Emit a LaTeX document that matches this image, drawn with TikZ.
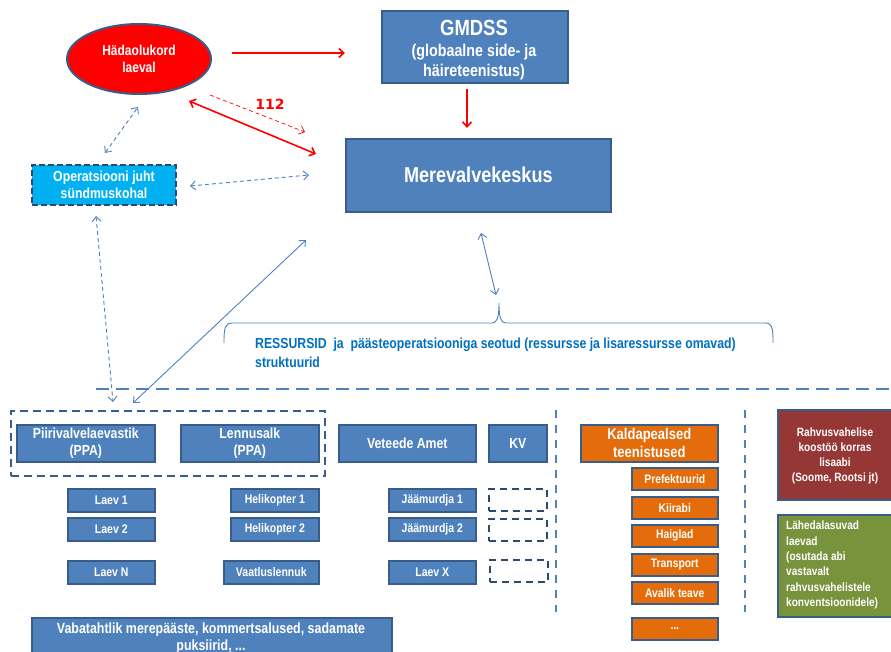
\documentclass[tikz,border=0pt]{standalone}
\usepackage{fontspec}
\setmainfont{Liberation Sans}[FakeStretch=0.84]
\newfontfamily\numfont{DejaVu Sans}
\usetikzlibrary{arrows.meta,shapes.geometric}
\definecolor{boxblue}{HTML}{4F81BD}
\definecolor{edgeblue}{HTML}{385D8A}
\definecolor{dashdark}{HTML}{2C4A70}
\definecolor{cyanbox}{HTML}{00B0F0}
\definecolor{orangebox}{HTML}{E46C0A}
\definecolor{redbox}{HTML}{953735}
\definecolor{greenbox}{HTML}{77933C}
\definecolor{txtblue}{HTML}{0070C0}
\tikzset{
  bx/.style={draw=edgeblue, line width=1.6pt, fill=boxblue, text=white, font=\bfseries,
    align=center, inner sep=0pt, anchor=north west},
  obx/.style={bx, fill=orangebox},
  emptybox/.style={draw=dashdark, line width=1.6pt, dash pattern=on 7pt off 5pt, anchor=north west, inner sep=0pt},
  redarr/.style={draw=red, line width=1.6pt, -{Straight Barb[length=5pt,width=9pt]}},
  reddbl/.style={draw=red, line width=1.6pt, {Straight Barb[length=5pt,width=9pt]}-{Straight Barb[length=5pt,width=9pt]}},
  reddash/.style={draw=red, line width=0.7pt, dash pattern=on 4pt off 3pt, -{Straight Barb[length=5pt,width=9pt]}},
  bluedash/.style={draw=boxblue, line width=0.9pt, dash pattern=on 4pt off 3pt, {Straight Barb[length=5pt,width=9pt]}-{Straight Barb[length=5pt,width=9pt]}},
  bluesolid/.style={draw=boxblue, line width=0.9pt, {Straight Barb[length=5pt,width=9pt]}-{Straight Barb[length=5pt,width=9pt]}},
  sepline/.style={draw=boxblue, line width=2.4pt, dash pattern=on 8pt off 7pt},
}
\begin{document}
\begin{tikzpicture}[x=1pt,y=-1pt]
\useasboundingbox (0,0) rectangle (891,652);
% top
\node[ellipse, draw=edgeblue, line width=2pt, fill=red, text=white, font=\bfseries\fontsize{14.3}{17}\selectfont,
  align=center, minimum width=144pt, minimum height=70pt, inner sep=0pt] (ell) at (139,59) {Hädaolukord\\laeval};
\node[bx, minimum width=186pt, minimum height=72pt] (gmdss) at (381,10) {};
\node[text=white, font=\bfseries\fontsize{22}{23}\selectfont] (gmdsst) at (474,28) {GMDSS};
\node[text=white, font=\bfseries\fontsize{17}{20}\selectfont, align=center] (gmdsss) at (474,62) {(globaalne side- ja\\häireteenistus)};
\node[bx, minimum width=265pt, minimum height=73pt, font=\bfseries\fontsize{21.5}{24}\selectfont] (mvk) at (345,138) {Merevalvekeskus};
\node[bx, fill=cyanbox, draw=dashdark, dash pattern=on 6pt off 3pt, line width=2pt, minimum width=144pt, minimum height=40pt,
  font=\bfseries\fontsize{14.6}{16.5}\selectfont] (opj) at (31,164) {Operatsiooni juht\\sündmuskohal};
\node[text=red, font=\numfont\bfseries\fontsize{14}{16}\selectfont] (n112) at (270,104) {112};
% connectors top
\coordinate (a1) at (232,53); \coordinate (a2) at (345,53);
\draw[redarr] (a1) -- (a2);
\coordinate (b1) at (467,89); \coordinate (b2) at (467,128);
\draw[redarr] (b1) -- (b2);
\coordinate (c1) at (189,101); \coordinate (c2) at (316,154);
\draw[reddbl] (c1) -- (c2);
\coordinate (d1) at (210,95); \coordinate (d2) at (305,132);
\draw[reddash] (d1) -- (d2);
\coordinate (e1) at (105,153); \coordinate (e2) at (138,107);
\draw[bluedash] (e1) -- (e2);
\coordinate (f1) at (190,186); \coordinate (f2) at (309,175);
\draw[bluedash] (f1) -- (f2);
\coordinate (g1) at (96,216); \coordinate (g2) at (113,402);
\draw[bluedash] (g1) -- (g2);
\coordinate (h1) at (306,240); \coordinate (h2) at (133,403);
\draw[bluesolid] (h1) -- (h2);
\coordinate (i1) at (481,233); \coordinate (i2) at (496,295);
\draw[bluesolid] (i1) -- (i2);
% brace
\draw[boxblue, line width=0.9pt] (224,343) .. controls (224,327) and (225,323) .. (233,323) -- (492,323)
  .. controls (497,323) and (499,318) .. (499,303) .. controls (499,318) and (501,323) .. (506,323)
  -- (765,323) .. controls (772,323) and (773,327) .. (773,343);
\node[text=txtblue, font=\bfseries\fontsize{14.6}{19}\selectfont, align=left, anchor=north west, inner sep=0pt] (res) at (255,338)
  {RESSURSID\ \ ja\ \ päästeoperatsiooniga seotud (ressursse ja lisaressursse omavad)\\struktuurid};
% separators
\coordinate (s1) at (96,389); \coordinate (s2) at (891,389);
\draw[sepline, dash pattern=on 13pt off 7pt] (s1) -- (s2);
\coordinate (v1) at (556,410); \coordinate (v2) at (556,612);
\draw[sepline, line width=2pt] (v1) -- (v2);
\coordinate (w1) at (745,410); \coordinate (w2) at (745,612);
\draw[sepline, line width=2pt] (w1) -- (w2);
% group box
\node[emptybox, draw=edgeblue, line width=1.6pt, dash pattern=on 8pt off 5pt, minimum width=314pt, minimum height=65pt] (grp) at (10,410) {};
\tikzset{mid/.style={bx, minimum height=37pt, font=\bfseries\fontsize{14.6}{17}\selectfont}}
\node[mid, minimum width=138pt] (ppa) at (16,424) {Piirivalvelaevastik\\(PPA)};
\node[mid, minimum width=138pt] (lenn) at (180,424) {Lennusalk\\(PPA)};
\node[mid, minimum width=137pt] (vet) at (338,424) {Veteede Amet};
\node[mid, minimum width=58pt] (kv) at (488,424) {KV};
\node[mid, fill=orangebox, minimum width=137pt, font=\bfseries\fontsize{15.5}{18}\selectfont] (kald) at (580,424) {Kaldapealsed\\teenistused};
% small boxes
\tikzset{small/.style={bx, minimum height=23pt, font=\bfseries\fontsize{12.5}{14}\selectfont}}
\node[small, minimum width=87pt] (laev1) at (67,488) {Laev 1};
\node[small, minimum width=87pt] (laev2) at (67,517) {Laev 2};
\node[small, minimum width=87pt] (laevN) at (67,560) {Laev N};
\node[small, minimum width=88pt] (heli1) at (230,488) {Helikopter 1};
\node[small, minimum width=88pt] (heli2) at (230,517) {Helikopter 2};
\node[small, minimum width=95pt] (vaat) at (223,560) {Vaatluslennuk};
\node[small, minimum width=87pt] (jaa1) at (388,488) {Jäämurdja 1};
\node[small, minimum width=87pt] (jaa2) at (388,517) {Jäämurdja 2};
\node[small, minimum width=87pt] (laevX) at (388,560) {Laev X};
\node[emptybox, minimum width=58pt, minimum height=22pt] (em1) at (488,488) {};
\node[emptybox, minimum width=58pt, minimum height=22pt] (em2) at (488,518) {};
\node[emptybox, minimum width=58pt, minimum height=22pt] (em3) at (489,559) {};
% orange column
\tikzset{osmall/.style={small, fill=orangebox, minimum width=86pt, minimum height=22pt, font=\bfseries\fontsize{12.3}{14}\selectfont}}
\node[osmall] (pref) at (631,467) {Prefektuurid};
\node[osmall] (kiir) at (631,496) {Kiirabi};
\node[osmall] (haig) at (631,524) {Haiglad};
\node[osmall] (trans) at (631,553) {Transport};
\node[osmall] (aval) at (631,581) {Avalik teave};
\node[osmall] (odots) at (631,617) {...};
% right boxes
\node[bx, fill=redbox, minimum width=118pt, minimum height=90pt] (rahv) at (777,409) {};
\node[text=white, font=\bfseries\fontsize{12}{15}\selectfont, align=center] (rahvt) at (835,456) {Rahvusvahelise\\koostöö korras\\lisaabi\\(Soome, Rootsi jt)};
\node[bx, fill=greenbox, minimum width=118pt, minimum height=102pt] (lahed) at (777,514) {};
\node[text=white, font=\bfseries\fontsize{12}{15.3}\selectfont, align=left, anchor=north west, inner sep=0pt] (lahedt) at (786,521)
  {Lähedalasuvad\\laevad\\(osutada abi\\vastavalt\\rahvusvahelistele\\konventsioonidele)};
% bottom
\node[bx, minimum width=360pt, minimum height=45pt] (vaba) at (31,617) {};
\node[text=white, font=\bfseries\fontsize{14.8}{17}\selectfont, align=center, anchor=north] (vabat) at (211,619)
  {Vabatahtlik merepääste, kommertsalused, sadamate\\puksiirid, ...};
\end{tikzpicture}
\end{document}
